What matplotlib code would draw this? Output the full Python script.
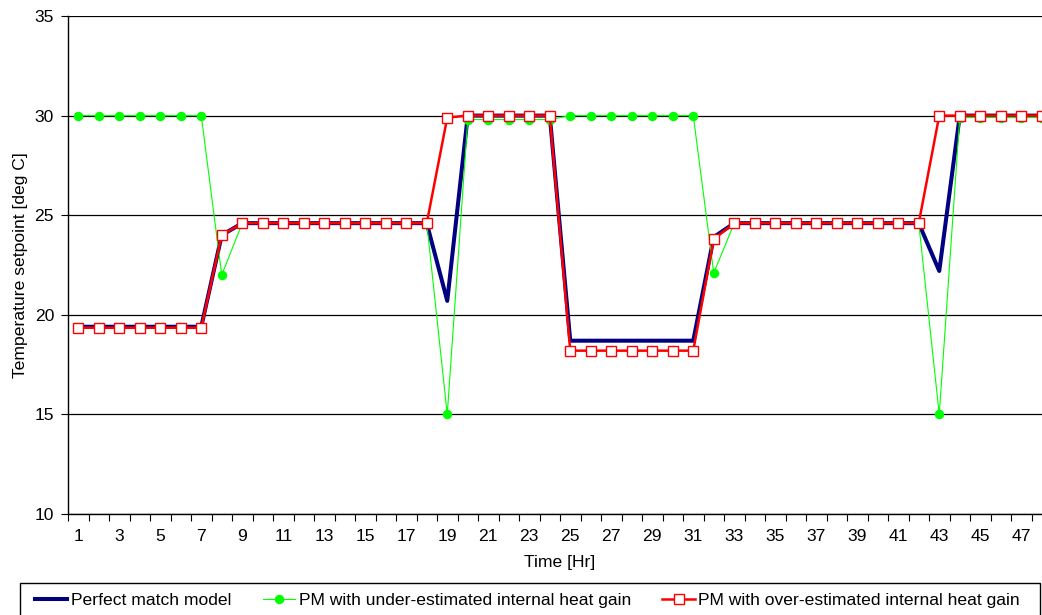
import matplotlib
matplotlib.use("Agg")
import matplotlib.pyplot as plt
from matplotlib.patches import Rectangle
from matplotlib.ticker import FixedLocator, NullFormatter

plt.rcParams['font.family'] = ['Liberation Sans', 'DejaVu Sans']

hours = list(range(1, 49))

perfect_match = ([19.4] * 7 + [24.0] + [24.6] * 10 + [20.7] + [30.0] * 5 +
                 [18.7] * 7 + [23.9] + [24.6] * 10 + [22.2] + [30.0] * 5)

under_estimated = ([30.0] * 7 + [22.0] + [24.6] * 10 + [15.0] + [29.8] * 5 +
                   [30.0] * 7 + [22.1] + [24.6] * 10 + [15.0] + [29.9] * 5)

over_estimated = ([19.35] * 7 + [24.0] + [24.6] * 10 + [29.9] + [30.0] * 5 +
                  [18.2] * 7 + [23.8] + [24.6] * 10 + [30.0] + [30.0] * 5)

tick_labels = [str(h) for h in range(1, 48, 2)]

W, H = 1042, 615
FS = 12.6

fig = plt.figure(figsize=(W / 100, H / 100), dpi=100)
ax = fig.add_axes([68 / W, 101 / H, (1052 - 68) / W, 498 / H])

ax.plot(hours, perfect_match, color='#000080', lw=2.9, zorder=3,
        label='Perfect match model')
ax.plot(hours, under_estimated, color='#00FF00', lw=0.8, marker='o',
        markersize=5.8, markerfacecolor='#00FF00', markeredgecolor='#00FF00',
        zorder=4, label='PM with under-estimated internal heat gain')
ax.plot(hours, over_estimated, color='#FF0000', lw=1.8, marker='s',
        markersize=6.8, markerfacecolor='white', markeredgecolor='#FF0000',
        markeredgewidth=1.0, zorder=5,
        label='PM with over-estimated internal heat gain')

ax.set_xlim(0.5, 48.5)
ax.set_ylim(10, 35)
ax.set_yticks([10, 15, 20, 25, 30, 35])
ax.grid(axis='y', color='#000000', lw=0.9, zorder=0)
ax.set_axisbelow(True)

# category boundaries carry the tick marks, odd hours carry the labels
ax.xaxis.set_major_locator(FixedLocator([h + 0.5 for h in range(0, 49)]))
ax.xaxis.set_major_formatter(NullFormatter())
ax.xaxis.set_minor_locator(FixedLocator(list(range(1, 48, 2))))
ax.set_xticklabels(tick_labels, minor=True)
ax.tick_params(axis='x', which='major', length=5, width=0.8, direction='out')
ax.tick_params(axis='x', which='minor', length=0, pad=11, labelsize=FS)
ax.tick_params(axis='y', length=5, width=0.8, direction='out', pad=5,
               labelsize=FS)

for side in ('top', 'right'):
    ax.spines[side].set_visible(False)
for side in ('left', 'bottom'):
    ax.spines[side].set_color('black')
    ax.spines[side].set_linewidth(1.0)

ax.set_xlabel('Time [Hr]', fontsize=FS, labelpad=8)
ax.set_ylabel('Temperature setpoint [deg C]', fontsize=FS, labelpad=5)

# legend box drawn as a plain rectangle running off the bottom edge
fig.patches.append(Rectangle((20 / W, -10 / H), 1020 / W, (615 - 583 + 10) / H,
                             transform=fig.transFigure, fill=False,
                             edgecolor='black', lw=1.0))
leg = fig.legend(loc='center left', ncol=3,
                 bbox_to_anchor=(35 / W, 1 - 600 / H),
                 frameon=False, fontsize=FS, handlelength=1.85,
                 handletextpad=0.2, columnspacing=1.8,
                 borderpad=0, borderaxespad=0)

fig.savefig('out.png', dpi=100)
